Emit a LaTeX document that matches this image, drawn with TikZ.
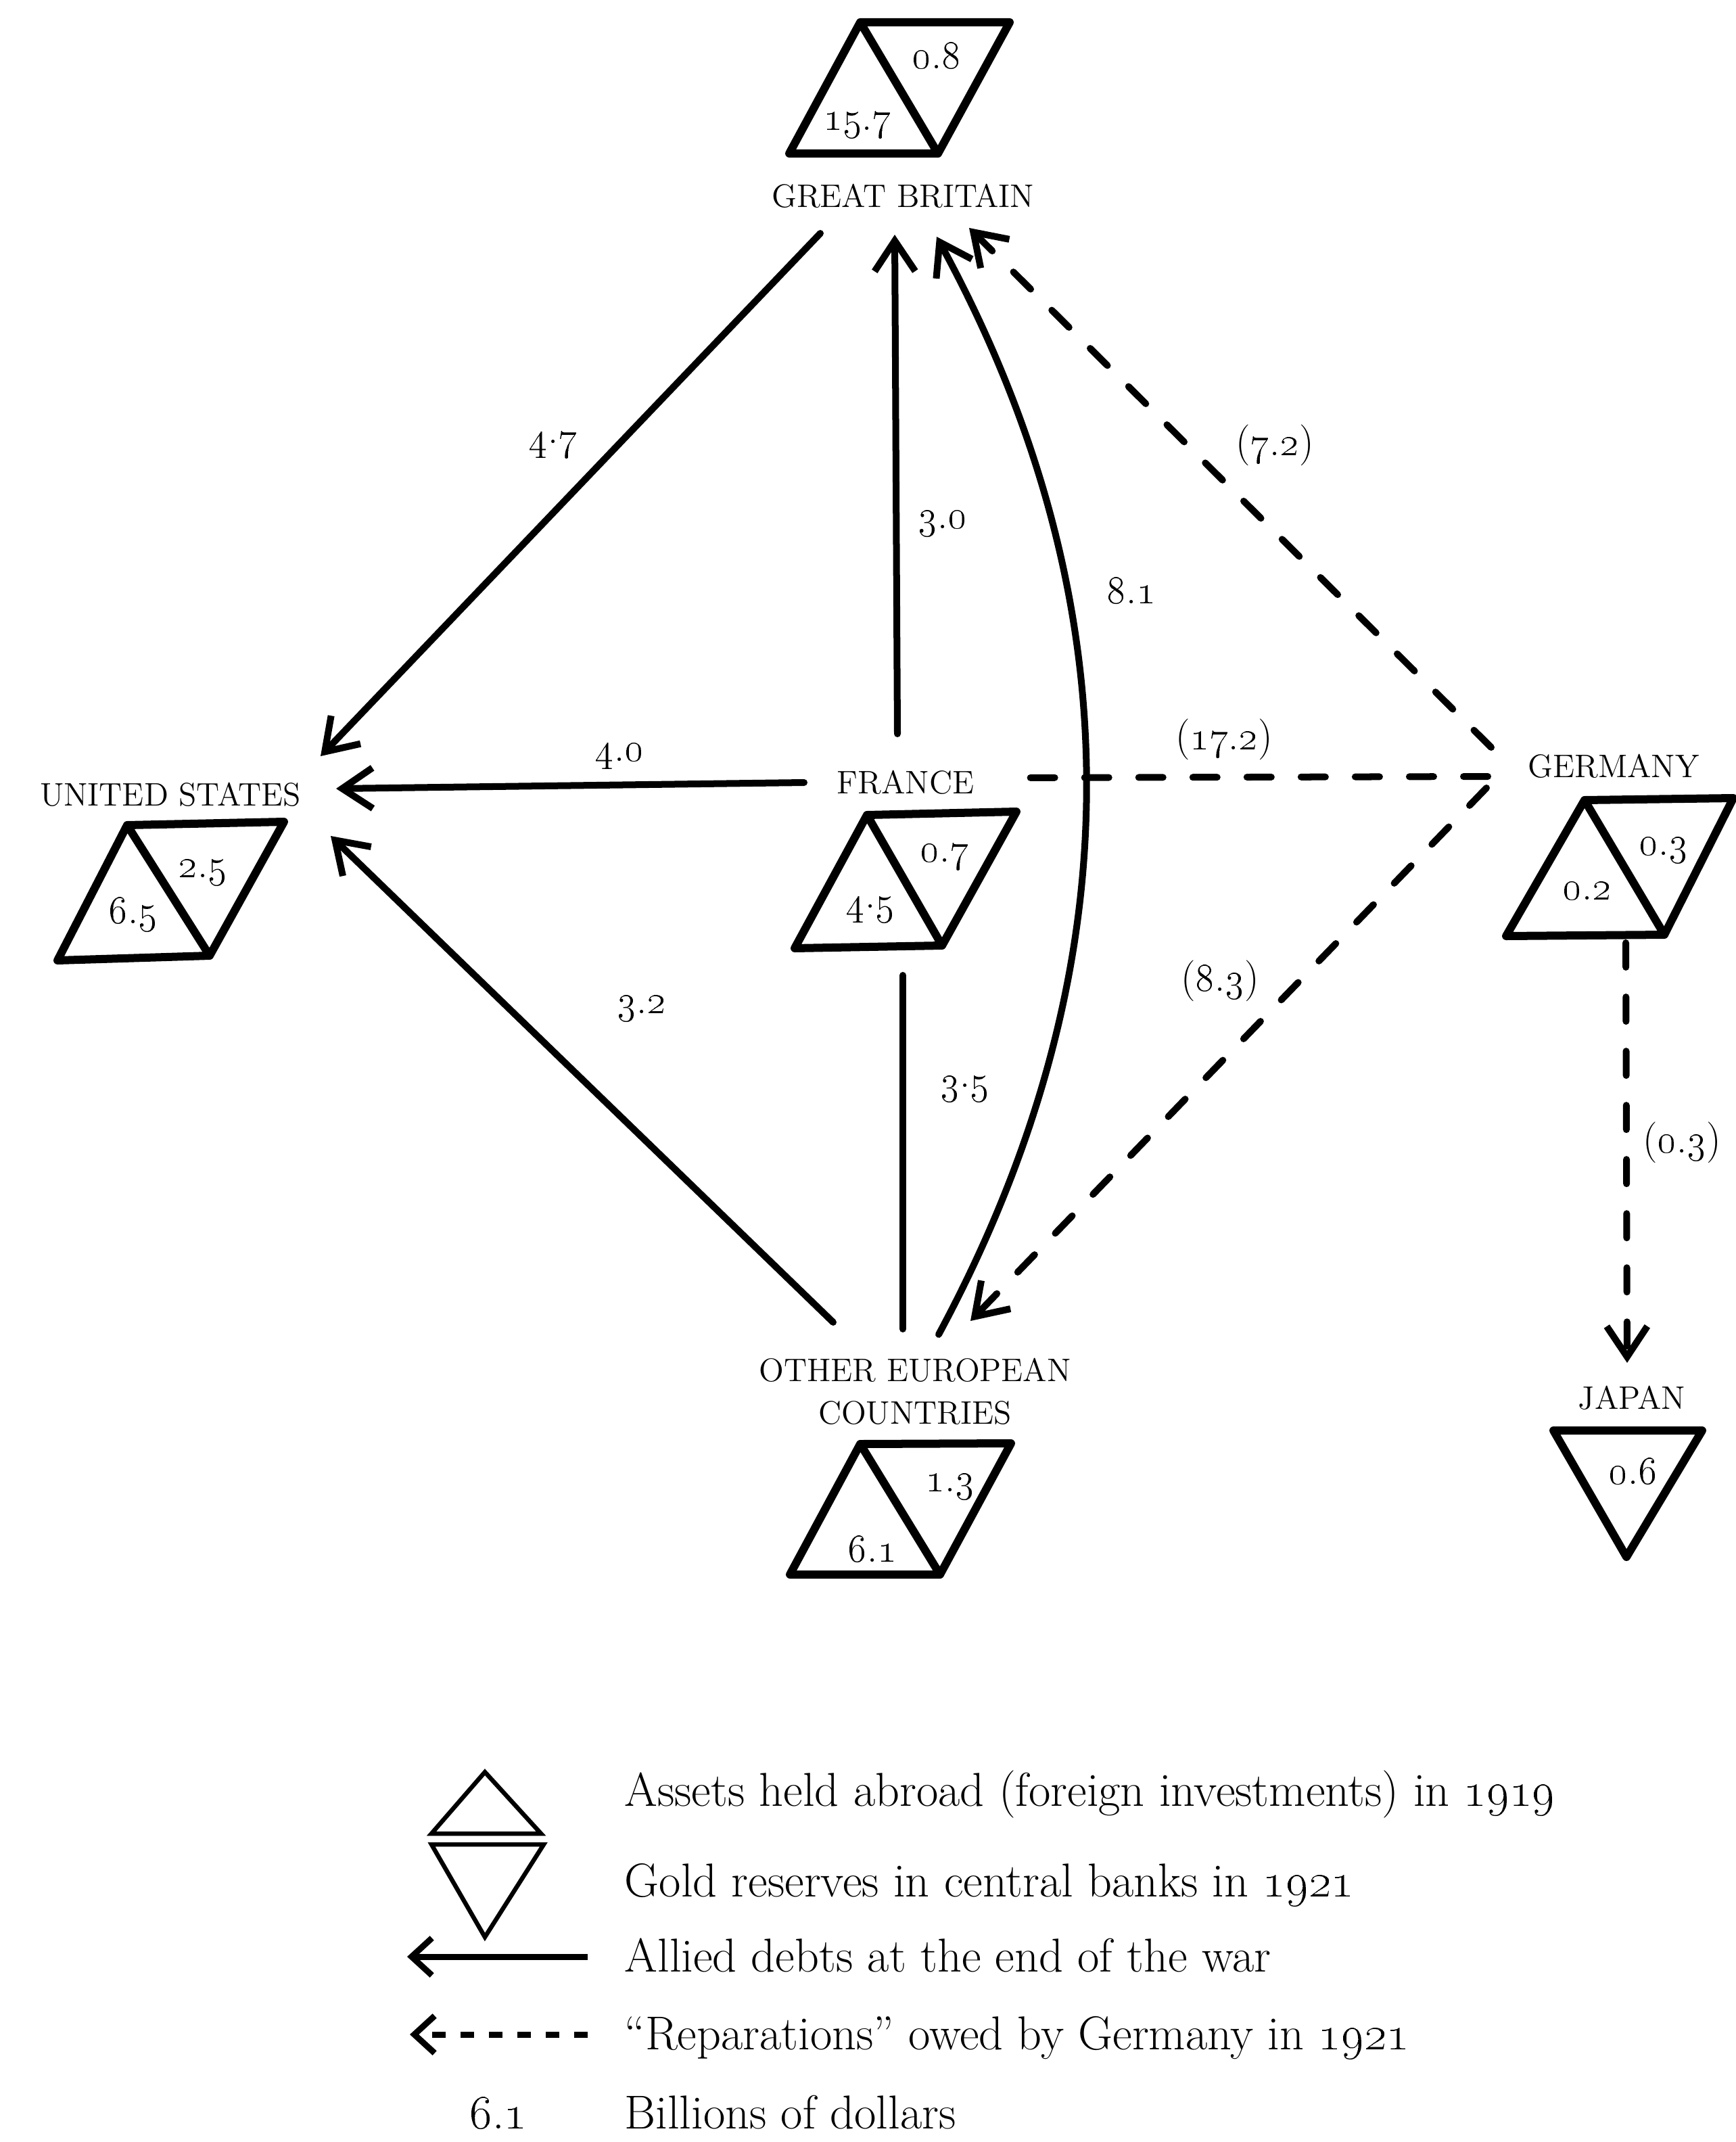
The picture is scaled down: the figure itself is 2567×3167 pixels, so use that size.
\documentclass[tikz,border=0pt]{standalone}
\usetikzlibrary{arrows.meta}
\newcommand\dn[2]{\oldstylenums{#1}.\oldstylenums{#2}}
\newcommand\cn[2]{\oldstylenums{#1}\raisebox{0.16em}{.}\oldstylenums{#2}}
\begin{document}
\begin{tikzpicture}[x=0.01cm,y=-0.01cm,
  box/.style={line width=0.12cm, line join=round, line cap=round},
  lbox/.style={line width=0.065cm, line join=miter},
  tipA/.style={-{Straight Barb[length=0.45cm,width=0.6cm]}},
  debt/.style={line width=0.10cm, line cap=round, tipA},
  repar/.style={line width=0.10cm, line cap=round, dash pattern=on 0.36cm off 0.44cm, tipA},
  reparline/.style={line width=0.10cm, line cap=round, dash pattern=on 0.36cm off 0.44cm},
  cname/.style={font=\fontsize{13.7}{16}\selectfont, inner sep=0pt},
  num/.style={font=\fontsize{17.28}{20}\selectfont, inner sep=0pt},
  legtext/.style={font=\fontsize{20}{24}\selectfont, inner sep=0pt, anchor=base west}
]
\useasboundingbox (0,0) rectangle (2567,3167);

% ---------- countries: shapes ----------
% Great Britain
\draw[box] (1272,33) -- (1493,33) -- (1387,227) -- (1167,227) -- cycle (1272,33) -- (1387,227);
\node[cname] (gb) at (1335,290) {GREAT BRITAIN};
\node[num] (gbA) at (1268,185) {\dn{15}{7}};
\node[num] (gbG) at (1385,82) {\dn{0}{8}};
% United States
\draw[box] (188,1220) -- (420,1215) -- (310,1413) -- (85,1420) -- cycle (188,1220) -- (310,1413);
\node[cname] (us) at (252,1175) {UNITED STATES};
\node[num] (usA) at (197,1352) {\dn{6}{5}};
\node[num] (usG) at (300,1290) {\dn{2}{5}};
% France
\draw[box] (1282,1205) -- (1503,1200) -- (1393,1398) -- (1175,1402) -- cycle (1282,1205) -- (1393,1398);
\node[cname] (fr) at (1339,1157) {FRANCE};
\node[num] (frA) at (1287,1345) {\cn{4}{5}};
\node[num] (frG) at (1397,1267) {\dn{0}{7}};
% Germany
\draw[box] (2343,1183) -- (2563,1180) -- (2461,1382) -- (2227,1384) -- cycle (2343,1183) -- (2461,1382);
\node[cname] (de) at (2386,1133) {GERMANY};
\node[num] (deA) at (2347,1317) {\dn{0}{2}};
\node[num] (deG) at (2460,1257) {\dn{0}{3}};
% Other European countries
\draw[box] (1272,2135) -- (1495,2134) -- (1390,2328) -- (1168,2328) -- cycle (1272,2135) -- (1390,2328);
\node[cname, align=center] (oe) at (1353,2057) {OTHER EUROPEAN\\[2pt]COUNTRIES};
\node[num] (oeA) at (1290,2290) {\dn{6}{1}};
\node[num] (oeG) at (1405,2198) {\dn{1}{3}};
% Japan
\draw[box] (2297,2115) -- (2517,2115) -- (2405,2302) -- cycle;
\node[cname] (jp) at (2413,2067) {JAPAN};
\node[num] (jpG) at (2415,2175) {\dn{0}{6}};

% ---------- connector end points ----------
\coordinate (gbSW) at (1213,345);
\coordinate (gbS)  at (1323,347);
\coordinate (gbSE) at (1385,350);
\coordinate (gbE)  at (1433,337);
\coordinate (usNE) at (474,1118);
\coordinate (usE)  at (497,1166);
\coordinate (usSE) at (489,1236);
\coordinate (frW)  at (1189,1157);
\coordinate (frE)  at (1491,1150);
\coordinate (frN)  at (1327,1085);
\coordinate (frS)  at (1335,1442);
\coordinate (deNW) at (2205,1105);
\coordinate (deW)  at (2200,1148);
\coordinate (deSW) at (2198,1165);
\coordinate (deS)  at (2404,1394);
\coordinate (oeNW) at (1232,1955);
\coordinate (oeN)  at (1335,1965);
\coordinate (oeNE) at (1388,1973);
\coordinate (oeNEE) at (1435,1953);
\coordinate (jpN)  at (2406,2015);

% ---------- allied debts ----------
\draw[debt] (gbSW) -- (usNE);
\draw[debt] (frN) -- (gbS);
\draw[debt] (frW) -- (usE);
\draw[debt] (oeNW) -- (usSE);
\draw[line width=0.10cm, line cap=round] (oeN) -- (frS);
\draw[debt] (oeNE) .. controls (1679,1432) and (1679,891) .. (gbSE);

% ---------- reparations ----------
\draw[repar] (deNW) -- (gbE);
\draw[reparline] (deW) -- (frE);
\draw[repar] (deSW) -- (oeNEE);
\draw[repar] (deS) -- (jpN);

% ---------- connector labels ----------
\node[num] (l47) at (818,658) {\cn{4}{7}};
\node[num] (l30) at (1394,774) {\dn{3}{0}};
\node[num] (l81) at (1673,873) {\dn{8}{1}};
\node[num] (l72) at (1885,658) {(\dn{7}{2})};
\node[num] (l40) at (916,1118) {\dn{4}{0}};
\node[num] (l172) at (1810,1093) {(\dn{17}{2})};
\node[num] (l32) at (949,1491) {\dn{3}{2}};
\node[num] (l35) at (1427,1610) {\cn{3}{5}};
\node[num] (l83) at (1804,1450) {(\dn{8}{3})};
\node[num] (l03) at (2487,1689) {(\dn{0}{3})};

% ---------- legend ----------
\draw[lbox] (717,2620) -- (800,2711) -- (638,2711) -- cycle;
\draw[lbox] (638,2727) -- (804,2727) -- (717,2864) -- cycle;
\coordinate (lgA1) at (869,2893);
\coordinate (lgA2) at (602,2893);
\coordinate (lgB1) at (869,3008);
\coordinate (lgB2) at (606,3008);
\draw[line width=0.09cm, -{Straight Barb[length=0.3cm,width=0.55cm]}] (lgA1) -- (lgA2);
\draw[line width=0.09cm, dash pattern=on 0.2cm off 0.22cm, -{Straight Barb[length=0.3cm,width=0.55cm]}] (lgB1) -- (lgB2);
\node[legtext] (lt1) at (923,2670) {Assets held abroad (foreign investments) in \oldstylenums{1919}};
\node[legtext] (lt2) at (923,2804) {Gold reserves in central banks in \oldstylenums{1921}};
\node[legtext] (lt3) at (923,2915) {Allied debts at the end of the war};
\node[legtext] (lt4) at (923,3030) {``Reparations'' owed by Germany in \oldstylenums{1921}};
\node[legtext, anchor=base] (lt5n) at (737,3147) {\dn{6}{1}};
\node[legtext] (lt5) at (923,3147) {Billions of dollars};
\end{tikzpicture}
\end{document}
